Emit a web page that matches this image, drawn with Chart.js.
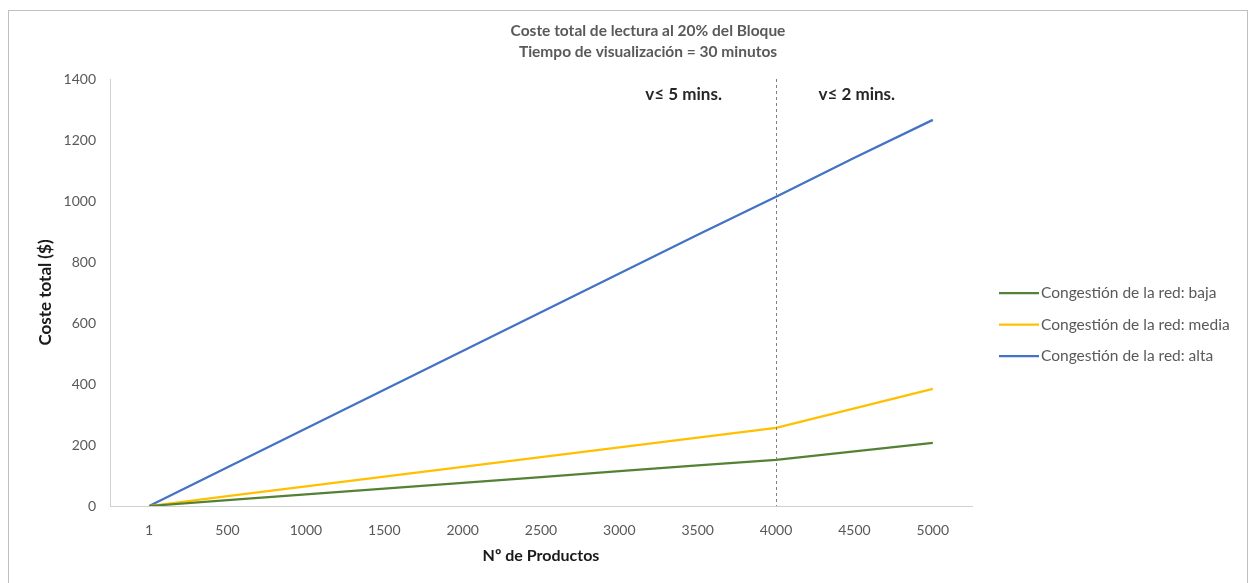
<!DOCTYPE html>
<html>
<head>
<meta charset="utf-8">
<script src="https://cdn.jsdelivr.net/npm/chart.js@4"></script>
<style>
  html, body { margin: 0; padding: 0; background: #fff; }
  #grafico { display: block; }
</style>
</head>
<body>
<canvas id="grafico" width="1250" height="583"></canvas>
<script>
// Nº de productos (categorías del eje X)
const productos = ['1', '500', '1000', '1500', '2000', '2500', '3000', '3500', '4000', '4500', '5000'];

// Coste total ($) según la congestión de la red
const costeBaja  = [0, 19, 38, 57, 76, 95, 114, 133, 151, 179, 207];
const costeMedia = [0, 32, 64, 96, 128, 160, 192, 224, 256, 320, 384];
const costeAlta  = [0, 127, 254, 381, 508, 635, 762, 889, 1014, 1142, 1266];

const nombresSeries = ['Congestión de la red: baja', 'Congestión de la red: media', 'Congestión de la red: alta'];
const coloresSeries = ['#548235', '#FFC000', '#4472C4'];

const titulo = ['Coste total de lectura al 20% del Bloque', 'Tiempo de visualización = 30 minutos'];

// Tramos de velocidad separados en 4000 productos
const indiceCorte = 8;
const tramos = [
    { texto: 'v≤ 5 mins.', indice: 6.82, valor: 1350 },
    { texto: 'v≤ 2 mins.', indice: 9.03, valor: 1350 }
];

const fuente = 'Lato, "Open Sans", sans-serif';

// Marco, título, línea de corte, textos de tramo y leyenda
const decoracion = {
    id: 'decoracion',
    beforeDraw(chart) {
        const ctx = chart.ctx;
        ctx.save();
        ctx.fillStyle = '#fff';
        ctx.fillRect(0, 0, chart.width, chart.height);
        ctx.strokeStyle = '#bfbfbf';
        ctx.lineWidth = 1;
        ctx.strokeRect(8.5, 10.5, 1239, 600);
        ctx.restore();
    },
    afterDatasetsDraw(chart) {
        const ctx = chart.ctx;
        const x = chart.scales.x;
        const y = chart.scales.y;
        const area = chart.chartArea;
        ctx.save();

        // línea discontinua en 4000
        const xc = Math.round(x.getPixelForValue(indiceCorte)) + 0.5;
        ctx.strokeStyle = '#7f7f7f';
        ctx.lineWidth = 1;
        ctx.setLineDash([3, 3]);
        ctx.beginPath();
        ctx.moveTo(xc, area.top);
        ctx.lineTo(xc, area.bottom);
        ctx.stroke();
        ctx.setLineDash([]);

        // textos de tramo
        ctx.fillStyle = '#262626';
        ctx.font = 'bold 17px ' + fuente;
        ctx.textAlign = 'center';
        ctx.textBaseline = 'middle';
        tramos.forEach(t => {
            ctx.fillText(t.texto, x.getPixelForValue(t.indice), y.getPixelForValue(t.valor));
        });

        // título
        ctx.fillStyle = '#595959';
        ctx.font = 'bold 15.5px ' + fuente;
        ctx.fillText(titulo[0], 648, 31);
        ctx.fillText(titulo[1], 648, 52);

        // leyenda
        ctx.font = '15.5px ' + fuente;
        ctx.textAlign = 'left';
        nombresSeries.forEach((nombre, i) => {
            const ly = 293 + i * 31.5;
            ctx.strokeStyle = coloresSeries[i];
            ctx.lineWidth = 2.25;
            ctx.beginPath();
            ctx.moveTo(999, ly);
            ctx.lineTo(1039, ly);
            ctx.stroke();
            ctx.fillStyle = '#595959';
            ctx.fillText(nombre, 1041, ly);
        });
        ctx.restore();
    }
};

const series = [costeBaja, costeMedia, costeAlta];

new Chart(document.getElementById('grafico').getContext('2d'), {
    type: 'line',
    data: {
        labels: productos,
        datasets: series.map((datos, i) => ({
            label: nombresSeries[i],
            data: datos,
            borderColor: coloresSeries[i],
            backgroundColor: coloresSeries[i],
            borderWidth: 2.25,
            pointRadius: 0,
            tension: 0,
            fill: false
        }))
    },
    options: {
        responsive: false,
        animation: false,
        layout: { padding: { left: 0, top: 79, right: 278, bottom: 0 } },
        plugins: {
            legend: { display: false },
            title: { display: false },
            tooltip: { enabled: false }
        },
        scales: {
            x: {
                offset: true,
                grid: { display: false, drawTicks: false },
                border: { color: '#d0d0d0', width: 1 },
                ticks: {
                    color: '#595959',
                    font: { family: fuente, size: 14 },
                    padding: 16,
                    maxRotation: 0,
                    autoSkip: false
                },
                title: {
                    display: true,
                    text: 'Nº de Productos',
                    color: '#1a1a1a',
                    font: { family: fuente, size: 16, weight: 'bold' },
                    padding: { top: 0, bottom: 18 }
                },
                afterFit(scale) { scale.height = 77; }
            },
            y: {
                min: 0,
                max: 1400,
                grid: { display: false, drawTicks: false },
                border: { color: '#d0d0d0', width: 1 },
                ticks: {
                    stepSize: 200,
                    color: '#595959',
                    font: { family: fuente, size: 14 },
                    padding: 14,
                    callback: v => String(v)
                },
                title: {
                    display: true,
                    text: 'Coste total ($)',
                    color: '#1a1a1a',
                    font: { family: fuente, size: 17, weight: 'bold' },
                    padding: { top: 35, bottom: 0 }
                },
                afterFit(scale) { scale.width = 110; }
            }
        }
    },
    plugins: [decoracion]
});
</script>
</body>
</html>
